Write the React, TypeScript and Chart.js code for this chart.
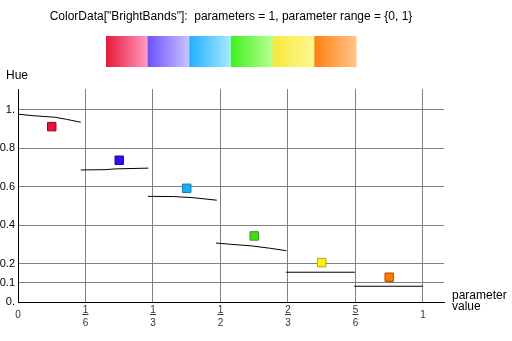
import React, { useEffect, useRef } from "react";
import { Chart, registerables } from "chart.js";

Chart.register(...registerables);

const titleText = 'ColorData["BrightBands"]:  parameters = 1, parameter range = {0, 1}';
const yAxisTitle = "Hue";
const xAxisTitle = ["parameter", "value"];

const xTickValues = [0, 1 / 6, 1 / 3, 1 / 2, 2 / 3, 5 / 6, 1];
const xTickLabels = ["0", "1/6", "1/3", "1/2", "2/3", "5/6", "1"];
const yTickValues = [0, 0.1, 0.2, 0.4, 0.6, 0.8, 1];
const yTickLabels = ["0.", "0.1", "0.2", "0.4", "0.6", "0.8", "1."];

// hue curve pieces, one per band: [parameter value, hue]
const hueSegments: number[][][] = [
  [[0, 0.978], [0.037, 0.97], [0.091, 0.962], [0.12, 0.951], [0.155, 0.936]],
  [[0.155, 0.6875], [0.215, 0.689], [0.24, 0.693], [0.322, 0.697]],
  [[0.321, 0.55], [0.384, 0.549], [0.433, 0.543], [0.491, 0.53]],
  [[0.489, 0.307], [0.528, 0.3], [0.573, 0.293], [0.622, 0.28], [0.663, 0.267]],
  [[0.662, 0.155], [0.832, 0.155]],
  [[0.83, 0.082], [1.0, 0.082]],
];

const markerX = [1 / 12, 3 / 12, 5 / 12, 7 / 12, 9 / 12, 11 / 12];
const markerY = [0.913, 0.738, 0.592, 0.344, 0.205, 0.129];
const markerFill = ["#E8123C", "#2A12F0", "#18B0F0", "#40E012", "#FFF012", "#FF7800"];
const markerBorder = ["#A00028", "#1A0AA0", "#1080B8", "#2EA010", "#B8A800", "#B05000"];

const bandStart = ["#E8183A", "#6A50FF", "#1EB0FF", "#40F020", "#F5E83C", "#FF8010"];
const bandEnd = ["#FF9CC0", "#CCC4FF", "#A8EAFF", "#B8FF90", "#FFF890", "#FFC488"];

const FONT = "'Liberation Sans', Arial, sans-serif";

const decorPlugin = {
  id: "decor",
  afterDraw(chart: any) {
    const ctx = chart.ctx as CanvasRenderingContext2D;
    const area = chart.chartArea;
    const xs = chart.scales.x;
    ctx.save();
    // title
    ctx.fillStyle = "#000";
    ctx.font = `12px ${FONT}`;
    ctx.textAlign = "center";
    ctx.textBaseline = "middle";
    ctx.fillText(titleText, (area.left + area.right) / 2, 17);
    // color bar
    const barL = 106, barR = 356, barT = 36, barB = 67;
    const bw = (barR - barL) / bandStart.length;
    for (let i = 0; i < bandStart.length; i++) {
      const x0 = barL + i * bw;
      const g = ctx.createLinearGradient(x0, 0, x0 + bw, 0);
      g.addColorStop(0, bandStart[i]);
      g.addColorStop(1, bandEnd[i]);
      ctx.fillStyle = g;
      ctx.fillRect(x0, barT, bw + 0.5, barB - barT);
    }
    // axis titles
    ctx.fillStyle = "#000";
    ctx.font = `12px ${FONT}`;
    ctx.textAlign = "left";
    ctx.fillText(yAxisTitle, 6, 76);
    ctx.fillText(xAxisTitle[0], 452, 296);
    ctx.fillText(xAxisTitle[1], 452, 307);
    // x tick labels (fractions)
    ctx.font = `10px ${FONT}`;
    ctx.fillStyle = "#333";
    ctx.textAlign = "center";
    xs.ticks.forEach((t: any) => {
      const label = xTickLabels[xTickValues.indexOf(t.value)];
      const px = xs.getPixelForValue(t.value);
      if (label.includes("/")) {
        const [num, den] = label.split("/");
        ctx.fillText(num, px, 310);
        ctx.fillRect(px - 3, 314, 6, 1);
        ctx.fillText(den, px, 323);
      } else {
        ctx.fillText(label, px, 315);
      }
    });
    ctx.restore();
  },
};

export default function App() {
  const ref = useRef<HTMLCanvasElement>(null);
  useEffect(() => {
    document.body.style.margin = "0";
    const lineSets = hueSegments.map((seg) => ({
      type: "line" as const,
      data: seg.map(([x, y]) => ({ x, y })),
      borderColor: "#000",
      borderWidth: 1,
      pointRadius: 0,
      fill: false,
      tension: 0,
    }));
    const chart = new Chart(ref.current!, {
      type: "scatter",
      data: {
        datasets: [
          ...lineSets,
          {
            type: "scatter" as const,
            data: markerX.map((x, i) => ({ x, y: markerY[i] })),
            pointStyle: "rect",
            pointRadius: 6,
            pointBackgroundColor: markerFill,
            pointBorderColor: markerBorder,
            pointBorderWidth: 1,
          },
        ] as any,
      },
      options: {
        responsive: false,
        animation: false,
        layout: { padding: { top: 89, right: 68, bottom: 0, left: 0 } },
        plugins: { legend: { display: false }, tooltip: { enabled: false }, title: { display: false } },
        scales: {
          x: {
            type: "linear",
            min: 0,
            max: 1.052,
            afterBuildTicks: (s: any) => {
              s.ticks = xTickValues.map((v) => ({ value: v }));
            },
            afterFit: (s: any) => {
              s.height = 39;
            },
            ticks: { display: false },
            grid: { color: "#808080", lineWidth: 1, drawTicks: false },
            border: { color: "#000", width: 1 },
          },
          y: {
            type: "linear",
            min: 0,
            max: 1.109,
            afterBuildTicks: (s: any) => {
              s.ticks = yTickValues.map((v) => ({ value: v }));
            },
            afterFit: (s: any) => {
              s.width = 18;
            },
            ticks: {
              padding: 3,
              color: "#000",
              font: { family: FONT, size: 11 },
              callback: (v: any) => yTickLabels[yTickValues.indexOf(Number(v))],
            },
            grid: { color: "#808080", lineWidth: 1, drawTicks: false },
            border: { color: "#000", width: 1 },
          },
        },
      },
      plugins: [decorPlugin],
    });
    return () => chart.destroy();
  }, []);
  return (
    <div style={{ position: "absolute", left: 0, top: 0, width: 512, height: 341 }}>
      <canvas ref={ref} width={512} height={341} style={{ width: 512, height: 341 }} />
    </div>
  );
}
